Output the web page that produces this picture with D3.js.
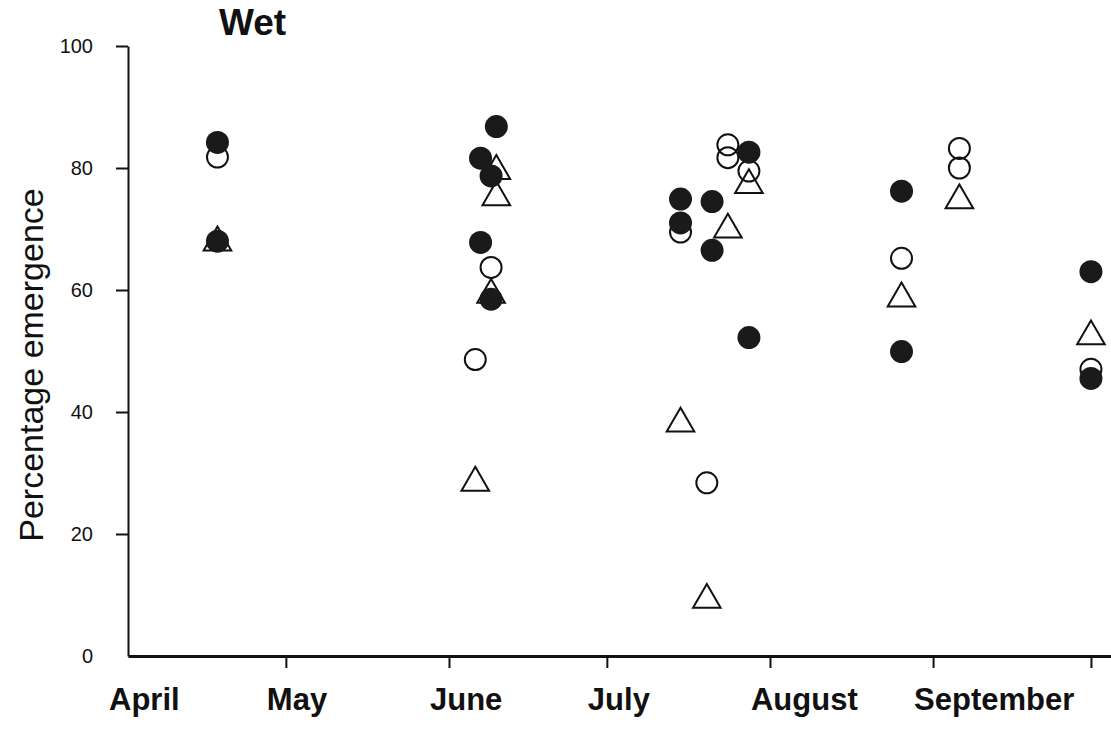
<!DOCTYPE html>
<html lang="en">
<head>
    <meta charset="UTF-8">
    <script src="https://d3js.org/d3.v7.min.js"></script>
    <title>Wet</title>
    <style>
        body { margin: 0; background: #fff; }
        svg { display: block; font-family: "Liberation Sans", Arial, Helvetica, sans-serif; }
    </style>
</head>
<body>
    <script>
        // month labels and where each month starts
        const months = ["April", "May", "June", "July", "August", "September"];
        const monthStarts = ["2001-04-01", "2001-05-01", "2001-06-01", "2001-07-01", "2001-08-01", "2001-09-01", "2001-10-01"];
        const yTicks = [0, 20, 40, 60, 80, 100];

        // filled circles
        const filledDates = ["2001-04-18", "2001-04-18", "2001-06-10", "2001-06-07", "2001-06-09", "2001-06-07", "2001-06-09",
            "2001-07-15", "2001-07-21", "2001-07-15", "2001-07-21", "2001-07-28", "2001-07-28",
            "2001-08-26", "2001-08-26", "2001-10-01", "2001-10-01"];
        const filledPct = [84.2, 68.0, 86.8, 81.6, 78.7, 67.8, 58.5, 74.9, 74.5, 71.0, 66.5, 82.6, 52.2, 76.2, 49.9, 63.0, 45.5];

        // open circles
        const openDates = ["2001-04-18", "2001-06-09", "2001-06-06", "2001-07-24", "2001-07-24", "2001-07-28",
            "2001-07-15", "2001-07-20", "2001-08-26", "2001-09-06", "2001-09-06", "2001-10-01"];
        const openPct = [81.8, 63.7, 48.6, 83.8, 81.7, 79.5, 69.5, 28.4, 65.2, 83.2, 80.0, 47.0];

        // open triangles
        const triDates = ["2001-04-18", "2001-06-10", "2001-06-10", "2001-06-09", "2001-06-06", "2001-07-24",
            "2001-07-28", "2001-07-15", "2001-07-20", "2001-08-26", "2001-09-06", "2001-10-01"];
        const triPct = [67.8, 79.5, 75.2, 59.2, 28.4, 69.9, 77.2, 38.1, 9.2, 58.6, 74.7, 52.4];

        const width = 1111;
        const height = 733;
        const margin = {top: 46, right: 0, bottom: 77, left: 128};

        const parse = d3.timeParse("%Y-%m-%d");

        const x = d3.scaleTime()
            .domain([parse("2001-04-01"), parse("2001-10-05")])
            .range([margin.left, width + 1]);

        const y = d3.scaleLinear()
            .domain([0, 100])
            .range([height - margin.bottom, margin.top]);

        const svg = d3.select('body')
            .append('svg')
            .attr('width', width)
            .attr('height', height);

        // y axis
        const yAxis = d3.axisLeft(y)
            .tickValues(yTicks)
            .tickSize(12)
            .tickSizeOuter(0)
            .tickPadding(23);
        const gy = svg.append('g')
            .attr('transform', `translate(${margin.left}, 0)`)
            .call(yAxis);
        gy.select('.domain').attr('stroke', '#111').attr('stroke-width', 2);
        gy.selectAll('.tick line').attr('stroke', '#111').attr('stroke-width', 2);
        gy.selectAll('.tick').filter(d => d === 0).select('line').remove();
        gy.selectAll('.tick text')
            .attr('font-size', 20)
            .attr('fill', '#111')
            .attr('font-family', '"Liberation Sans", Arial, sans-serif');

        // x axis
        const xAxis = d3.axisBottom(x)
            .tickValues(monthStarts.slice(1).map(parse))
            .tickSize(12)
            .tickSizeOuter(0)
            .tickFormat('');
        const gx = svg.append('g')
            .attr('transform', `translate(0, ${y(0)})`)
            .call(xAxis);
        gx.select('.domain').attr('stroke', '#111').attr('stroke-width', 3);
        gx.selectAll('.tick line').attr('stroke', '#111').attr('stroke-width', 2);

        svg.append('g')
            .selectAll('text')
            .data(months).enter()
            .append('text')
            .attr('x', (d, i) => x(parse(monthStarts[i])))
            .attr('dx', -19)
            .attr('y', y(0) + 54)
            .attr('font-size', 31)
            .attr('font-weight', 'bold')
            .attr('fill', '#111')
            .text(d => d);

        // y label
        svg.append('text')
            .attr('transform', `translate(43, 365) rotate(-90)`)
            .attr('text-anchor', 'middle')
            .attr('font-size', 34)
            .attr('fill', '#111')
            .text('Percentage emergence');

        // title
        svg.append('text')
            .attr('x', 219)
            .attr('y', 35)
            .attr('font-size', 37)
            .attr('font-weight', 'bold')
            .attr('fill', '#111')
            .text('Wet');

        // points: open circles, triangles, then filled circles on top
        const open = openDates.map((d, i) => ({date: parse(d), pct: openPct[i]}));
        const tri = triDates.map((d, i) => ({date: parse(d), pct: triPct[i]}));
        const filled = filledDates.map((d, i) => ({date: parse(d), pct: filledPct[i]}));

        svg.append('g')
            .selectAll('circle')
            .data(open).enter()
            .append('circle')
            .attr('cx', d => x(d.date))
            .attr('cy', d => y(d.pct))
            .attr('r', 10.5)
            .attr('fill', 'none')
            .attr('stroke', '#111')
            .attr('stroke-width', 2);

        const triangle = d3.symbol().type(d3.symbolTriangle).size(330);
        svg.append('g')
            .selectAll('path')
            .data(tri).enter()
            .append('path')
            .attr('d', triangle)
            .attr('transform', d => `translate(${x(d.date)}, ${y(d.pct)})`)
            .attr('fill', 'none')
            .attr('stroke', '#111')
            .attr('stroke-width', 2);

        svg.append('g')
            .selectAll('circle')
            .data(filled).enter()
            .append('circle')
            .attr('cx', d => x(d.date))
            .attr('cy', d => y(d.pct))
            .attr('r', 11.5)
            .attr('fill', '#1a1a1a');
    </script>
</body>
</html>
